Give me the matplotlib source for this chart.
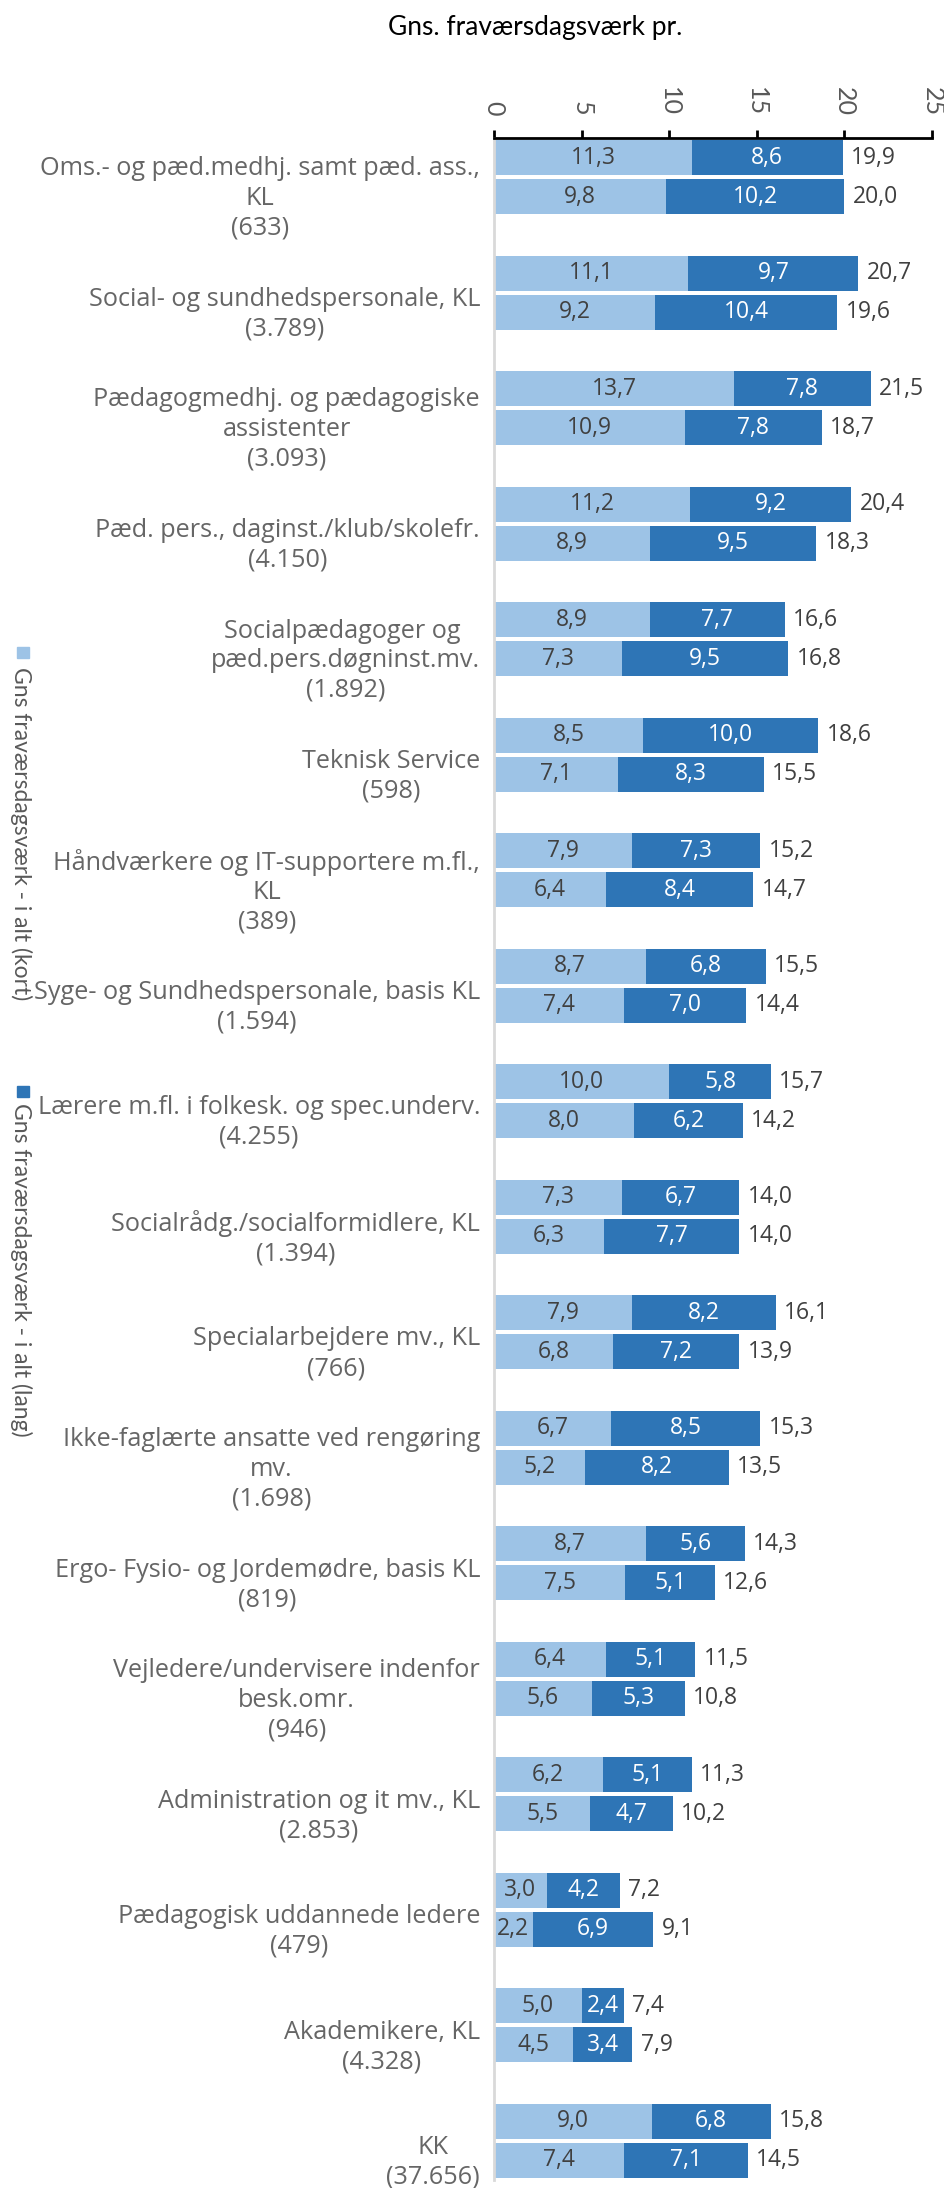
import matplotlib
matplotlib.use("Agg")
import matplotlib.pyplot as plt
from matplotlib.patches import Rectangle
import numpy as np

# categories (top to bottom), with headcount in parentheses
categories = [
    "Oms.- og pæd.medhj. samt pæd. ass.,\nKL\n(633)",
    "Social- og sundhedspersonale, KL\n(3.789)",
    "Pædagogmedhj. og pædagogiske\nassistenter\n(3.093)",
    "Pæd. pers., daginst./klub/skolefr.\n(4.150)",
    "Socialpædagoger og \npæd.pers.døgninst.mv.\n(1.892)",
    "Teknisk Service\n(598)",
    "Håndværkere og IT-supportere m.fl.,\nKL\n(389)",
    "Syge- og Sundhedspersonale, basis KL\n(1.594)",
    "Lærere m.fl. i folkesk. og spec.underv.\n(4.255)",
    "Socialrådg./socialformidlere, KL\n(1.394)",
    "Specialarbejdere mv., KL\n(766)",
    "Ikke-faglærte ansatte ved rengøring\nmv.\n(1.698)",
    "Ergo- Fysio- og Jordemødre, basis KL\n(819)",
    "Vejledere/undervisere indenfor\nbesk.omr.\n(946)",
    "Administration og it mv., KL\n(2.853)",
    "Pædagogisk uddannede ledere\n(479)",
    "Akademikere, KL\n(4.328)",
    "KK\n(37.656)",
]

# upper bar in each group
kort_top = [11.3, 11.1, 13.7, 11.2, 8.9, 8.5, 7.9, 8.7, 10.0, 7.3, 7.9, 6.7, 8.7, 6.4, 6.2, 3.0, 5.0, 9.0]
lang_top = [8.6, 9.7, 7.8, 9.2, 7.7, 10.0, 7.3, 6.8, 5.8, 6.7, 8.2, 8.5, 5.6, 5.1, 5.1, 4.2, 2.4, 6.8]
total_top = [19.9, 20.7, 21.5, 20.4, 16.6, 18.6, 15.2, 15.5, 15.7, 14.0, 16.1, 15.3, 14.3, 11.5, 11.3, 7.2, 7.4, 15.8]

# lower bar in each group
kort_bot = [9.8, 9.2, 10.9, 8.9, 7.3, 7.1, 6.4, 7.4, 8.0, 6.3, 6.8, 5.2, 7.5, 5.6, 5.5, 2.2, 4.5, 7.4]
lang_bot = [10.2, 10.4, 7.8, 9.5, 9.5, 8.3, 8.4, 7.0, 6.2, 7.7, 7.2, 8.2, 5.1, 5.3, 4.7, 6.9, 3.4, 7.1]
total_bot = [20.0, 19.6, 18.7, 18.3, 16.8, 15.5, 14.7, 14.4, 14.2, 14.0, 13.9, 13.5, 12.6, 10.8, 10.2, 9.1, 7.9, 14.5]

xticks = [0, 5, 10, 15, 20, 25]
legend_labels = ["Gns fraværsdagsværk - i alt (kort)", "Gns fraværsdagsværk - i alt (lang)"]
title = "Gns. fraværsdagsværk pr."

LIGHT = "#9DC3E6"
DARK = "#2E75B6"
VALCOL = "#404040"
CATCOL = "#666666"
LABFONT = ["Open Sans", "DejaVu Sans"]

plt.rcParams["font.family"] = ["Lato", "DejaVu Sans"]

W, H = 945, 2188
fig = plt.figure(figsize=(W / 100, H / 100), dpi=100)
ax = fig.add_axes([494 / W, 1 - 2180 / H, (932 - 494) / W, (2180 - 138) / H])

n = len(categories)
pos = np.arange(n)
off = 0.169
bh = 0.303


def fmt(v):
    return f"{v:.1f}".replace(".", ",")


def draw_bar(y, kort, lang, total):
    ax.barh(y, kort, height=bh, color=LIGHT, linewidth=0)
    ax.barh(y, lang, left=kort, height=bh, color=DARK, linewidth=0)
    for yi, k, l, t in zip(y, kort, lang, total):
        ax.text(k / 2, yi, fmt(k), ha="center", va="center", fontsize=16.5,
                color=VALCOL, family=LABFONT)
        ax.text(k + l / 2, yi, fmt(l), ha="center", va="center", fontsize=16.5,
                color="white", family=LABFONT)
        ax.annotate(fmt(t), (k + l, yi), xytext=(6, 0), textcoords="offset points",
                    ha="left", va="center", fontsize=16.5, color=VALCOL, family=LABFONT)


draw_bar(pos - off, kort_top, lang_top, total_top)
draw_bar(pos + off, kort_bot, lang_bot, total_bot)

ax.set_xlim(0, 25)
ax.set_ylim(n - 1 + 0.338, -0.338)

ax.xaxis.tick_top()
ax.set_xticks(xticks)
ax.set_xticklabels([str(x) for x in xticks], rotation=-90)
ax.tick_params(axis="x", direction="out", length=6, width=2, color="black",
               labelcolor="#595959", labelsize=18, pad=10)

ax.set_yticks(pos + 0.14)
ax.set_yticklabels(categories, family=LABFONT)
ax.tick_params(axis="y", length=0, labelsize=18.2, labelcolor=CATCOL, pad=10)
for t in ax.get_yticklabels():
    t.set_multialignment("center")
    t.set_linespacing(1.24)

for s in ["right", "bottom"]:
    ax.spines[s].set_visible(False)
ax.spines["top"].set_linewidth(2)
ax.spines["top"].set_color("black")
ax.spines["left"].set_linewidth(2)
ax.spines["left"].set_color("#D9D9D9")

# title
fig.text(535 / W, 1 - 27 / H, title, ha="center", va="center", fontsize=19, color="black")

# vertical legend on the left
for (sq_top, txt_top), col, lab in zip([(647, 667), (1086, 1103)], [LIGHT, DARK], legend_labels):
    fig.patches.append(Rectangle((17 / W, 1 - (sq_top + 11) / H), 12 / W, 11 / H,
                                 transform=fig.transFigure, color=col, figure=fig))
    fig.text(21 / W, 1 - txt_top / H, lab, rotation=270, ha="center", va="top",
             fontsize=16.5, color="#595959")

fig.savefig("out.png", dpi=100)
